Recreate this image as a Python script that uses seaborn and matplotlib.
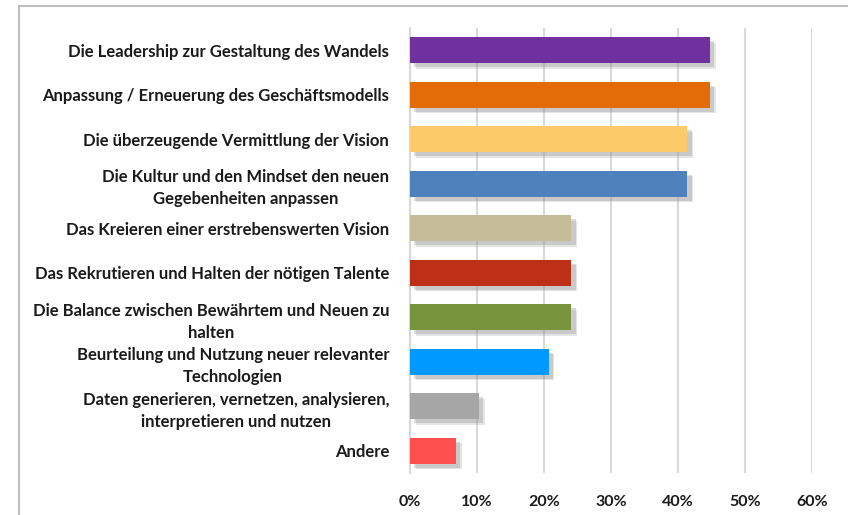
import matplotlib
matplotlib.use("Agg")
import matplotlib.pyplot as plt
import matplotlib.patheffects as pe
from matplotlib.patches import Rectangle
import seaborn as sns
import pandas as pd

categories = [
    "Die Leadership zur Gestaltung des Wandels",
    "Anpassung / Erneuerung des Geschäftsmodells",
    "Die überzeugende Vermittlung der Vision",
    "Die Kultur und den Mindset den neuen\nGegebenheiten anpassen",
    "Das Kreieren einer erstrebenswerten Vision",
    "Das Rekrutieren und Halten der nötigen Talente",
    "Die Balance zwischen Bewährtem und Neuen zu\nhalten",
    "Beurteilung und Nutzung neuer relevanter\nTechnologien",
    "Daten generieren, vernetzen, analysieren,\ninterpretieren und nutzen",
    "Andere",
]
values = [0.448, 0.448, 0.414, 0.414, 0.241, 0.241, 0.241, 0.207, 0.103, 0.069]
colors = ["#7030A0", "#E36C09", "#FDCA6A", "#4F81BD", "#C4BD97",
          "#BE2F17", "#77933C", "#0099FF", "#A6A6A6", "#FF4F4F"]
tick_values = [0, 0.1, 0.2, 0.3, 0.4, 0.5, 0.6]
tick_labels = ["0%", "10%", "20%", "30%", "40%", "50%", "60%"]

sns.set_theme(style="white")
plt.rcParams["font.family"] = ["Lato", "DejaVu Sans"]

df = pd.DataFrame({"cat": categories, "val": values})

fig = plt.figure(figsize=(8.48, 5.15), dpi=100)
ax = fig.add_axes([410 / 848, 1 - 473 / 515, 402 / 848, 445 / 515])

sns.barplot(data=df, y="cat", x="val", hue="cat", palette=colors,
            orient="h", width=0.585, legend=False, ax=ax, saturation=1)

for p in ax.patches:
    p.set_edgecolor("none")
    p.set_zorder(3)
    p.set_path_effects([
        pe.SimplePatchShadow(offset=(4, -4), shadow_rgbFace="#9a9a9a", alpha=0.25),
        pe.SimplePatchShadow(offset=(3, -3), shadow_rgbFace="#8a8a8a", alpha=0.3),
        pe.Normal()])

ax.set_xlim(0, 0.6)
ax.set_ylim(9.5, -0.5)
ax.set_xticks(tick_values)
ax.set_xticklabels(tick_labels, fontsize=11.5, fontweight="bold", color="#1a1a1a")
ax.set_yticks(range(len(categories)))
ax.set_yticklabels(categories, fontsize=12, fontweight="bold", color="#1a1a1a",
                   multialignment="center", linespacing=1.45)
ax.tick_params(axis="y", length=0, pad=15)
ax.tick_params(axis="x", length=0, pad=16)
ax.set_xlabel("")
ax.set_ylabel("")
ax.xaxis.grid(True, color="#D9D9D9", linewidth=1.5, zorder=0)
ax.set_axisbelow(True)
for s in ["top", "right", "bottom"]:
    ax.spines[s].set_visible(False)
ax.spines["left"].set_color("#D9D9D9")
ax.spines["left"].set_linewidth(1.5)

fig.patches.append(Rectangle((19 / 848, -0.05), 1.0, 1 - 6 / 515 + 0.05,
                             transform=fig.transFigure, fill=False,
                             edgecolor="#BFBFBF", linewidth=1.5))

fig.savefig("out.png", dpi=100)
